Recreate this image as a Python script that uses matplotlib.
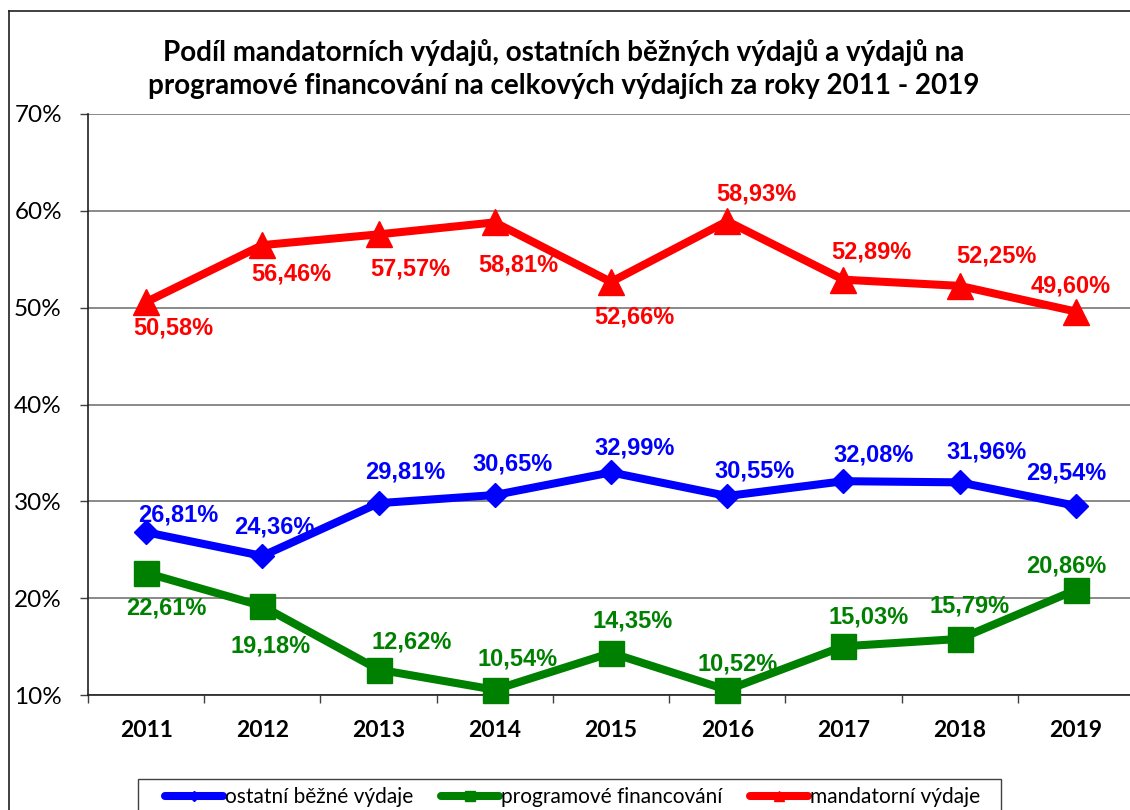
import matplotlib.pyplot as plt
from matplotlib.lines import Line2D
from matplotlib.patches import Rectangle

# Data
years = ['2011', '2012', '2013', '2014', '2015', '2016', '2017', '2018', '2019']
ostatni = [26.81, 24.36, 29.81, 30.65, 32.99, 30.55, 32.08, 31.96, 29.54]
programove = [22.61, 19.18, 12.62, 10.54, 14.35, 10.52, 15.03, 15.79, 20.86]
mandatorni = [50.58, 56.46, 57.57, 58.81, 52.66, 58.93, 52.89, 52.25, 49.60]
y_ticks = [10, 20, 30, 40, 50, 60, 70]

title = ('Podíl mandatorních výdajů, ostatních běžných výdajů a výdajů na\n'
         'programové financování na celkových výdajích za roky 2011 - 2019')

# label offsets in pixels (dx, dy down)
off_ostatni = [(32, -17), (12, -29), (27, -31), (18, -31), (24, -24),
               (27, -25), (30, -26), (27, -30), (-10, -33)]
off_programove = [(20, 35), (8, 40), (33, -28), (23, -31), (22, -32),
                  (10, -26), (25, -29), (10, -33), (-10, -24)]
off_mandatorni = [(27, 26), (29, 29), (32, 35), (24, 43), (23, 35),
                  (29, -27), (28, -28), (37, -30), (-5, -26)]

W, H = 1130, 810
fig = plt.figure(figsize=(W / 100, H / 100), dpi=100)
fig.patch.set_facecolor('white')

# axes box in pixels: left 88, right 1134, top 114, bottom 695
ax = fig.add_axes([88 / W, 1 - 695 / H, (1134 - 88) / W, (695 - 114) / H])

x = list(range(len(years)))
series = [
    (ostatni, '#0000FF', 'D', 12, off_ostatni, 'ostatní běžné výdaje'),
    (programove, '#008000', 's', 18, off_programove, 'programové financování'),
    (mandatorni, '#FF0000', '^', 19, off_mandatorni, 'mandatorní výdaje'),
]

handles = []
for vals, col, mk, ms, offs, name in series:
    ax.plot(x, vals, color=col, lw=5.8, marker=mk, markersize=ms,
            solid_joinstyle='round', zorder=3, clip_on=False)
    handles.append(Line2D([], [], color=col, lw=5.8, marker=mk,
                          markersize=ms * 0.4, solid_capstyle='round'))
    for xi, v, (dx, dy) in zip(x, vals, offs):
        ax.annotate(f'{v:.2f}%'.replace('.', ','), (xi, v),
                    xytext=(dx, -dy), textcoords='offset pixels',
                    ha='center', va='center', color=col, fontsize=17,
                    fontweight='bold', family='Liberation Sans', zorder=4)

ax.set_xlim(-0.5, 8.5)
ax.set_ylim(10, 70)
ax.set_yticks(y_ticks)
ax.set_yticklabels([f'{t}%' for t in y_ticks], family='Lato', fontsize=17.5)
ax.set_xticks(x)
ax.set_xticklabels(years, family='Lato', fontsize=16.5, fontweight='bold')
ax.set_xticks([i - 0.5 for i in range(len(years) + 1)], minor=True)
ax.tick_params(axis='x', which='major', length=0, pad=18)
ax.tick_params(axis='x', which='minor', length=5.8, width=1, color='#404040')
ax.tick_params(axis='y', length=5.8, width=1, pad=13, color='#404040')
ax.grid(axis='y', color='#808080', lw=1.3)
ax.set_axisbelow(True)
for s in ['top', 'right']:
    ax.spines[s].set_visible(False)
ax.spines['left'].set_color('#202020')
ax.spines['bottom'].set_color('#202020')
ax.spines['left'].set_linewidth(1.2)
ax.spines['bottom'].set_linewidth(1.2)

fig.text(564 / W, 1 - 69 / H, title, ha='center', va='center',
         family='Lato', fontsize=20, fontweight='bold', linespacing=1.35)

# legend, its frame drawn separately (cropped at the bottom)
leg = fig.legend(handles=handles, labels=[s[5] for s in series],
                 loc='center left', bbox_to_anchor=(165 / W, 1 - 797 / H),
                 ncol=3, frameon=False, prop={'family': 'Lato', 'size': 15},
                 handlelength=2.8, handletextpad=0.1, columnspacing=1.3,
                 borderpad=0, borderaxespad=0)
fig.add_artist(Rectangle((138 / W, 1 - 830 / H), (1001 - 138) / W, 51 / H,
                         transform=fig.transFigure, fill=False,
                         edgecolor='#404040', lw=1))

# outer chart border (cropped on the right and bottom)
fig.add_artist(Line2D([9 / W, 9 / W], [0, 1 - 11 / H], color='#202020',
                      lw=1.2, transform=fig.transFigure))
fig.add_artist(Line2D([9 / W, 1], [1 - 11 / H, 1 - 11 / H], color='#202020',
                      lw=1.2, transform=fig.transFigure))

fig.savefig('out.png', dpi=100)
